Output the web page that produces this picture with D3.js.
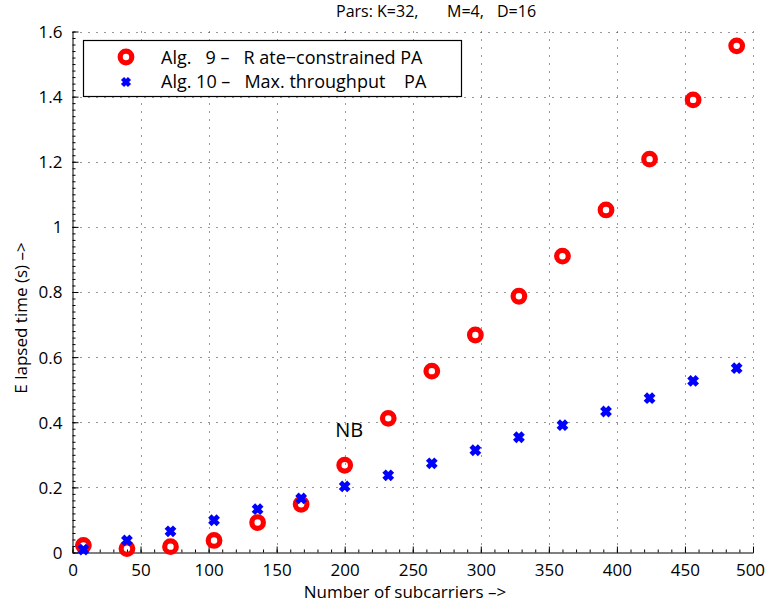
<!DOCTYPE html>
<html>
<head>
<meta charset="utf-8">
<script src="https://cdn.jsdelivr.net/npm/d3@7"></script>
<style>
  html, body { margin: 0; padding: 0; background: #fff; }
  svg text { font-family: 'Open Sans', sans-serif; white-space: pre; }
</style>
</head>
<body>
<svg id="chart" width="766" height="608"></svg>
<script>
/* ── Data ── */
const subcarriers = [8, 40, 72, 104, 136, 168, 200, 232, 264, 296, 328, 360, 392, 424, 456, 488];
const alg9Time  = [0.022, 0.012, 0.018, 0.037, 0.092, 0.148, 0.268, 0.412, 0.557, 0.668, 0.787, 0.910, 1.052, 1.208, 1.390, 1.556];
const alg10Time = [0.009, 0.037, 0.065, 0.099, 0.133, 0.166, 0.203, 0.237, 0.274, 0.314, 0.354, 0.391, 0.433, 0.474, 0.527, 0.566];
const xTicks = [0, 50, 100, 150, 200, 250, 300, 350, 400, 450, 500];
const yTicks = [0, 0.2, 0.4, 0.6, 0.8, 1, 1.2, 1.4, 1.6];
const legendLabels = ['Alg.   9 \u2013   R ate\u2212constrained PA', 'Alg. 10 \u2013   Max. throughput    PA'];
const titleParts = [
  { t: 'Pars: K=32,', x: 336 },
  { t: 'M=4,', x: 447 },
  { t: 'D=16', x: 497 },
];

const svg = d3.select('#chart');
const M = { l: 72.5, r: 753, t: 31.5, b: 552.5 };

const x = d3.scaleLinear().domain([0, 500]).range([M.l, M.r]);
const y = d3.scaleLinear().domain([0, 1.6]).range([M.b, M.t]);

/* ── Grid (dotted) ── */
const grid = svg.append('g').attr('stroke', '#333').attr('stroke-width', 1)
  .attr('stroke-dasharray', '1,7');
grid.selectAll('.gx').data(xTicks.slice(1)).join('line')
  .attr('x1', d => Math.round(x(d)) + 0.5).attr('x2', d => Math.round(x(d)) + 0.5)
  .attr('y1', M.b).attr('y2', M.t);
grid.selectAll('.gy').data(yTicks.slice(1)).join('line')
  .attr('y1', d => Math.round(y(d)) + 0.5).attr('y2', d => Math.round(y(d)) + 0.5)
  .attr('x1', M.l).attr('x2', M.r);

/* ── Axes: minor + major ticks, inward ── */
const xMinor = d3.range(0, 501, 10);
const yMinor = d3.range(0, 1.6001, 0.02);

svg.append('g').attr('transform', `translate(0,${M.b})`)
  .call(d3.axisBottom(x).tickValues(xMinor).tickSize(-3).tickFormat(''))
  .call(g => g.select('.domain').remove());
svg.append('g').attr('transform', `translate(${M.l},0)`)
  .call(d3.axisLeft(y).tickValues(yMinor).tickSize(-3).tickFormat(''))
  .call(g => g.select('.domain').remove());

const xAxis = svg.append('g').attr('transform', `translate(0,${M.b})`)
  .call(d3.axisBottom(x).tickValues(xTicks).tickSizeInner(-6).tickSizeOuter(0).tickPadding(11)
    .tickFormat(d3.format('d')));
const yAxis = svg.append('g').attr('transform', `translate(${M.l},0)`)
  .call(d3.axisLeft(y).tickValues(yTicks).tickSizeInner(-6).tickSizeOuter(0).tickPadding(10)
    .tickFormat(d => d === 0 ? '0' : d3.format('')(+d.toFixed(1))));
[xAxis, yAxis].forEach(a => {
  a.selectAll('text').attr('font-family', "'Open Sans', sans-serif").attr('font-size', 17).attr('fill', '#000');
  a.selectAll('line, path').attr('stroke', '#000');
});
yAxis.selectAll('text').attr('dy', '0.35em');
// last x label sits on the window edge; nudge it in
xAxis.selectAll('.tick text').filter(d => d === 500).attr('dx', -3);

/* ── Series ── */
const pts = subcarriers.map((s, i) => ({ s, a: alg9Time[i], b: alg10Time[i] }));
const xMark = 'M-4.2,-4.2L4.2,4.2M-4.2,4.2L4.2,-4.2';

svg.append('g').selectAll('circle').data(pts).join('circle')
  .attr('cx', d => x(d.s)).attr('cy', d => y(d.a))
  .attr('r', 5.8).attr('fill', 'none').attr('stroke', '#ff0000').attr('stroke-width', 5.2);

svg.append('g').selectAll('path').data(pts).join('path')
  .attr('transform', d => `translate(${x(d.s)},${y(d.b)})`)
  .attr('d', xMark).attr('stroke', '#0000ff').attr('stroke-width', 4.8).attr('fill', 'none');

/* ── Annotation ── */
svg.append('text').attr('x', x(193)).attr('y', y(0.355))
  .attr('font-size', 20).attr('fill', '#000').text('NB');

/* ── Legend ── */
const lg = svg.append('g');
lg.append('rect').attr('x', 83.5).attr('y', 40.5).attr('width', 378).attr('height', 56)
  .attr('fill', '#fff').attr('stroke', '#000').attr('stroke-width', 1.2);
lg.append('circle').attr('cx', 126).attr('cy', 57).attr('r', 5.8)
  .attr('fill', 'none').attr('stroke', '#ff0000').attr('stroke-width', 5.2);
lg.append('path').attr('transform', 'translate(126,82)').attr('d', 'M-3.5,-3.5L3.5,3.5M-3.5,3.5L3.5,-3.5')
  .attr('stroke', '#0000ff').attr('stroke-width', 4.4).attr('fill', 'none');
lg.selectAll('text').data(legendLabels).join('text')
  .attr('x', 161).attr('y', (d, i) => 63.5 + i * 24.5)
  .attr('font-size', 18).attr('fill', '#000').text(d => d);

/* ── Title & axis labels ── */
const title = svg.append('text').attr('y', 17).attr('font-size', 16).attr('fill', '#000');
title.selectAll('tspan').data(titleParts).join('tspan')
  .attr('x', d => d.x).text(d => d.t);
svg.append('text').attr('x', 405).attr('y', 598).attr('text-anchor', 'middle')
  .attr('font-size', 17).attr('fill', '#000').text('Number of subcarriers \u2013>');
svg.append('text').attr('transform', 'translate(27,318) rotate(-90)').attr('text-anchor', 'middle')
  .attr('font-size', 17).attr('fill', '#000').text('E lapsed time (s) \u2013>');
</script>
</body>
</html>
